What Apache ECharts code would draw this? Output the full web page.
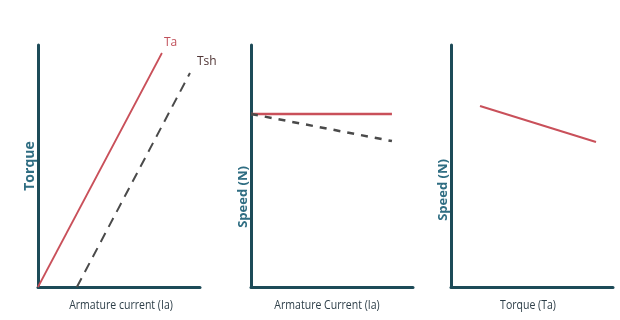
<!DOCTYPE html>
<html><head><meta charset="utf-8">
<script src="https://cdn.jsdelivr.net/npm/echarts@6/dist/echarts.min.js"></script>
<style>html,body{margin:0;padding:0;background:#fff}#c{width:620px;height:320px}</style>
</head><body><div id="c"></div>
<script>
// Chart 1: Torque vs Armature current
const taPoints = [[0, 0], [76.5, 96.7]];
const tshPoints = [[24, 0], [93.8, 88.4]];
// Chart 2: Speed vs Armature current
const speedFlat = [[0, 71.5], [87, 71.5]];
const speedDrop = [[0, 71.5], [87, 60.3]];
// Chart 3: Speed vs Torque
const speedTorque = [[17.9, 74.8], [89.5, 59.9]];

const xNames = ['Armature current (Ia)', 'Armature Current (Ia)', 'Torque (Ta)'];
const yNames = ['Torque', 'Speed (N)', 'Speed (N)'];

const axisCol = '#1d4b58';
const red = '#c9505a';
const lefts = [38, 251, 451];
const xNameCenters = [121, 327, 528];
const yNameShift = [0, 31, 24];
const yNameSize = [14, 13, 13];

const chart = echarts.init(document.getElementById('c'));
const grids = lefts.map(l => ({left: l, top: 45, width: 162, height: 242}));
const xAxes = xNames.map((n, i) => ({
  type: 'value', gridIndex: i, min: 0, max: 100,
  axisLine: {show: true, onZero: false, lineStyle: {color: axisCol, width: 3}},
  axisTick: {show: false}, axisLabel: {show: false}, splitLine: {show: false}
}));
const yAxes = yNames.map((n, i) => ({
  type: 'value', gridIndex: i, min: 0, max: 100,
  name: n, nameLocation: 'middle', nameGap: 1, nameRotate: 90,
  nameTextStyle: {fontFamily: 'Open Sans', fontWeight: 'bold', fontSize: yNameSize[i], color: '#2f6d82',
    padding: [0, yNameShift[i] * 2, 0, 0]},
  axisLine: {show: true, onZero: false, lineStyle: {color: axisCol, width: 3}},
  axisTick: {show: false}, axisLabel: {show: false}, splitLine: {show: false}
}));

const graphics = xNames.map((n, i) => ({
  type: 'text', x: xNameCenters[i], y: 305, scaleX: 0.78,
  style: {text: n, fontFamily: 'Open Sans', fontSize: 13.5, fill: '#2d3e48', align: 'center', verticalAlign: 'middle'}
}));

function line(data, idx, color, type, width, lbl, lblColor, off) {
  return {
    type: 'line', xAxisIndex: idx, yAxisIndex: idx, data: data, symbol: 'none',
    lineStyle: {color: color, width: width, type: type},
    z: 1,
    endLabel: lbl ? {show: true, formatter: lbl, color: lblColor, fontFamily: 'Open Sans', fontSize: 12, offset: off} : undefined
  };
}

chart.setOption({
  animation: false,
  grid: grids, xAxis: xAxes, yAxis: yAxes,
  graphic: graphics,
  series: [
    line(taPoints, 0, red, 'solid', 1.8, 'Ta', '#c0505a', [-6, -10]),
    line(tshPoints, 0, '#4a4a4a', [10, 7], 2, 'Tsh', '#503535', [-1, -11]),
    line(speedFlat, 1, red, 'solid', 2.5),
    line(speedDrop, 1, '#4a4a4a', [7, 7], 2.5),
    line(speedTorque, 2, red, 'solid', 2)
  ]
});
</script></body></html>
